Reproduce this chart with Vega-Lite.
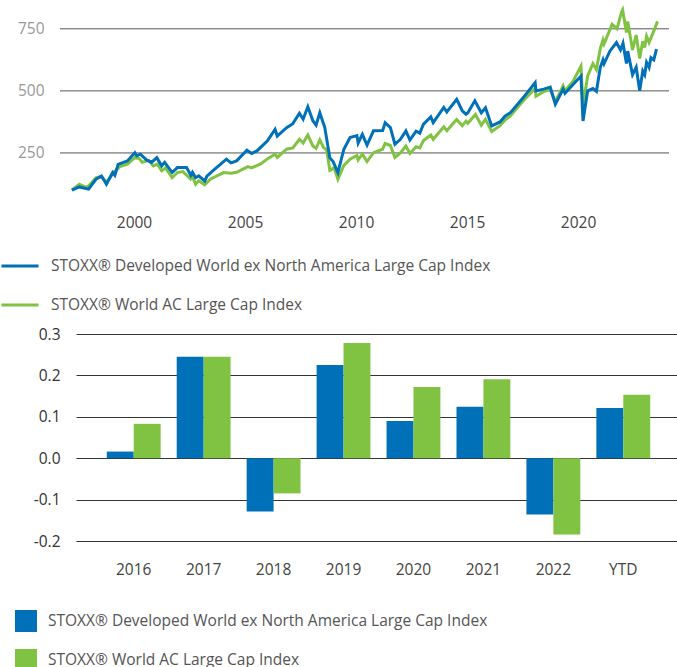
{
  "$schema": "https://vega.github.io/schema/vega-lite/v6.json",
  "padding": {"left": 0, "top": 3, "right": 0, "bottom": 0},
  "config": {"font": "Open Sans", "view": {"stroke": null}},
  "spacing": 13,
  "vconcat": [
    {
      "width": 593,
      "height": 211,
      "data": {"values": [
        {"s": "STOXX® World AC Large Cap Index", "d": "1997-03-15", "v": 100},
        {"s": "STOXX® World AC Large Cap Index", "d": "1997-07-15", "v": 124},
        {"s": "STOXX® World AC Large Cap Index", "d": "1997-10-27", "v": 112},
        {"s": "STOXX® World AC Large Cap Index", "d": "1997-12-15", "v": 117},
        {"s": "STOXX® World AC Large Cap Index", "d": "1998-04-15", "v": 150},
        {"s": "STOXX® World AC Large Cap Index", "d": "1998-07-15", "v": 155},
        {"s": "STOXX® World AC Large Cap Index", "d": "1998-10-05", "v": 132},
        {"s": "STOXX® World AC Large Cap Index", "d": "1999-02-15", "v": 175},
        {"s": "STOXX® World AC Large Cap Index", "d": "1999-05-15", "v": 195},
        {"s": "STOXX® World AC Large Cap Index", "d": "1999-09-15", "v": 205},
        {"s": "STOXX® World AC Large Cap Index", "d": "2000-01-15", "v": 231},
        {"s": "STOXX® World AC Large Cap Index", "d": "2000-03-25", "v": 228},
        {"s": "STOXX® World AC Large Cap Index", "d": "2000-05-15", "v": 212},
        {"s": "STOXX® World AC Large Cap Index", "d": "2000-09-01", "v": 220},
        {"s": "STOXX® World AC Large Cap Index", "d": "2000-11-15", "v": 198},
        {"s": "STOXX® World AC Large Cap Index", "d": "2001-01-20", "v": 205},
        {"s": "STOXX® World AC Large Cap Index", "d": "2001-04-01", "v": 178},
        {"s": "STOXX® World AC Large Cap Index", "d": "2001-06-01", "v": 190},
        {"s": "STOXX® World AC Large Cap Index", "d": "2001-09-20", "v": 150},
        {"s": "STOXX® World AC Large Cap Index", "d": "2001-12-15", "v": 171},
        {"s": "STOXX® World AC Large Cap Index", "d": "2002-03-15", "v": 175},
        {"s": "STOXX® World AC Large Cap Index", "d": "2002-07-20", "v": 145},
        {"s": "STOXX® World AC Large Cap Index", "d": "2002-08-20", "v": 155},
        {"s": "STOXX® World AC Large Cap Index", "d": "2002-10-10", "v": 124},
        {"s": "STOXX® World AC Large Cap Index", "d": "2002-12-01", "v": 138},
        {"s": "STOXX® World AC Large Cap Index", "d": "2003-03-10", "v": 122},
        {"s": "STOXX® World AC Large Cap Index", "d": "2003-06-15", "v": 145},
        {"s": "STOXX® World AC Large Cap Index", "d": "2004-01-15", "v": 171},
        {"s": "STOXX® World AC Large Cap Index", "d": "2004-05-15", "v": 168},
        {"s": "STOXX® World AC Large Cap Index", "d": "2004-08-15", "v": 172},
        {"s": "STOXX® World AC Large Cap Index", "d": "2005-02-15", "v": 195},
        {"s": "STOXX® World AC Large Cap Index", "d": "2005-04-20", "v": 190},
        {"s": "STOXX® World AC Large Cap Index", "d": "2005-09-15", "v": 206},
        {"s": "STOXX® World AC Large Cap Index", "d": "2006-01-15", "v": 228},
        {"s": "STOXX® World AC Large Cap Index", "d": "2006-05-10", "v": 245},
        {"s": "STOXX® World AC Large Cap Index", "d": "2006-06-15", "v": 232},
        {"s": "STOXX® World AC Large Cap Index", "d": "2006-11-15", "v": 265},
        {"s": "STOXX® World AC Large Cap Index", "d": "2007-02-27", "v": 270},
        {"s": "STOXX® World AC Large Cap Index", "d": "2007-06-15", "v": 305},
        {"s": "STOXX® World AC Large Cap Index", "d": "2007-08-15", "v": 290},
        {"s": "STOXX® World AC Large Cap Index", "d": "2007-10-31", "v": 322},
        {"s": "STOXX® World AC Large Cap Index", "d": "2008-01-22", "v": 278},
        {"s": "STOXX® World AC Large Cap Index", "d": "2008-03-15", "v": 268},
        {"s": "STOXX® World AC Large Cap Index", "d": "2008-05-15", "v": 303},
        {"s": "STOXX® World AC Large Cap Index", "d": "2008-07-15", "v": 272},
        {"s": "STOXX® World AC Large Cap Index", "d": "2008-09-05", "v": 262},
        {"s": "STOXX® World AC Large Cap Index", "d": "2008-10-27", "v": 180},
        {"s": "STOXX® World AC Large Cap Index", "d": "2009-01-06", "v": 190},
        {"s": "STOXX® World AC Large Cap Index", "d": "2009-03-09", "v": 144},
        {"s": "STOXX® World AC Large Cap Index", "d": "2009-06-15", "v": 200},
        {"s": "STOXX® World AC Large Cap Index", "d": "2009-09-25", "v": 225},
        {"s": "STOXX® World AC Large Cap Index", "d": "2010-01-15", "v": 240},
        {"s": "STOXX® World AC Large Cap Index", "d": "2010-02-05", "v": 222},
        {"s": "STOXX® World AC Large Cap Index", "d": "2010-04-15", "v": 245},
        {"s": "STOXX® World AC Large Cap Index", "d": "2010-07-01", "v": 215},
        {"s": "STOXX® World AC Large Cap Index", "d": "2010-10-15", "v": 251},
        {"s": "STOXX® World AC Large Cap Index", "d": "2011-03-15", "v": 265},
        {"s": "STOXX® World AC Large Cap Index", "d": "2011-04-25", "v": 288},
        {"s": "STOXX® World AC Large Cap Index", "d": "2011-07-20", "v": 280},
        {"s": "STOXX® World AC Large Cap Index", "d": "2011-10-03", "v": 232},
        {"s": "STOXX® World AC Large Cap Index", "d": "2012-01-01", "v": 250},
        {"s": "STOXX® World AC Large Cap Index", "d": "2012-04-01", "v": 278},
        {"s": "STOXX® World AC Large Cap Index", "d": "2012-06-05", "v": 248},
        {"s": "STOXX® World AC Large Cap Index", "d": "2012-09-15", "v": 275},
        {"s": "STOXX® World AC Large Cap Index", "d": "2012-11-15", "v": 270},
        {"s": "STOXX® World AC Large Cap Index", "d": "2013-01-15", "v": 300},
        {"s": "STOXX® World AC Large Cap Index", "d": "2013-05-15", "v": 322},
        {"s": "STOXX® World AC Large Cap Index", "d": "2013-06-24", "v": 305},
        {"s": "STOXX® World AC Large Cap Index", "d": "2013-12-15", "v": 355},
        {"s": "STOXX® World AC Large Cap Index", "d": "2014-02-03", "v": 340},
        {"s": "STOXX® World AC Large Cap Index", "d": "2014-07-15", "v": 385},
        {"s": "STOXX® World AC Large Cap Index", "d": "2014-10-15", "v": 360},
        {"s": "STOXX® World AC Large Cap Index", "d": "2014-12-15", "v": 378},
        {"s": "STOXX® World AC Large Cap Index", "d": "2015-01-15", "v": 370},
        {"s": "STOXX® World AC Large Cap Index", "d": "2015-05-20", "v": 405},
        {"s": "STOXX® World AC Large Cap Index", "d": "2015-08-24", "v": 362},
        {"s": "STOXX® World AC Large Cap Index", "d": "2015-11-01", "v": 385},
        {"s": "STOXX® World AC Large Cap Index", "d": "2016-02-11", "v": 336},
        {"s": "STOXX® World AC Large Cap Index", "d": "2016-06-27", "v": 360},
        {"s": "STOXX® World AC Large Cap Index", "d": "2016-09-15", "v": 382},
        {"s": "STOXX® World AC Large Cap Index", "d": "2016-12-15", "v": 399},
        {"s": "STOXX® World AC Large Cap Index", "d": "2017-07-15", "v": 460},
        {"s": "STOXX® World AC Large Cap Index", "d": "2018-01-26", "v": 510},
        {"s": "STOXX® World AC Large Cap Index", "d": "2018-02-08", "v": 478},
        {"s": "STOXX® World AC Large Cap Index", "d": "2018-06-15", "v": 497},
        {"s": "STOXX® World AC Large Cap Index", "d": "2018-10-01", "v": 505},
        {"s": "STOXX® World AC Large Cap Index", "d": "2018-12-24", "v": 455},
        {"s": "STOXX® World AC Large Cap Index", "d": "2019-05-01", "v": 520},
        {"s": "STOXX® World AC Large Cap Index", "d": "2019-06-01", "v": 500},
        {"s": "STOXX® World AC Large Cap Index", "d": "2019-10-15", "v": 540},
        {"s": "STOXX® World AC Large Cap Index", "d": "2020-02-19", "v": 600},
        {"s": "STOXX® World AC Large Cap Index", "d": "2020-03-23", "v": 440},
        {"s": "STOXX® World AC Large Cap Index", "d": "2020-06-08", "v": 560},
        {"s": "STOXX® World AC Large Cap Index", "d": "2020-09-02", "v": 610},
        {"s": "STOXX® World AC Large Cap Index", "d": "2020-10-30", "v": 585},
        {"s": "STOXX® World AC Large Cap Index", "d": "2021-01-01", "v": 670},
        {"s": "STOXX® World AC Large Cap Index", "d": "2021-02-15", "v": 705},
        {"s": "STOXX® World AC Large Cap Index", "d": "2021-03-05", "v": 690},
        {"s": "STOXX® World AC Large Cap Index", "d": "2021-07-15", "v": 768},
        {"s": "STOXX® World AC Large Cap Index", "d": "2021-10-04", "v": 750},
        {"s": "STOXX® World AC Large Cap Index", "d": "2021-12-15", "v": 816},
        {"s": "STOXX® World AC Large Cap Index", "d": "2022-01-04", "v": 826},
        {"s": "STOXX® World AC Large Cap Index", "d": "2022-03-08", "v": 735},
        {"s": "STOXX® World AC Large Cap Index", "d": "2022-03-29", "v": 780},
        {"s": "STOXX® World AC Large Cap Index", "d": "2022-06-16", "v": 665},
        {"s": "STOXX® World AC Large Cap Index", "d": "2022-08-15", "v": 725},
        {"s": "STOXX® World AC Large Cap Index", "d": "2022-10-12", "v": 630},
        {"s": "STOXX® World AC Large Cap Index", "d": "2022-12-01", "v": 700},
        {"s": "STOXX® World AC Large Cap Index", "d": "2023-01-02", "v": 675},
        {"s": "STOXX® World AC Large Cap Index", "d": "2023-02-02", "v": 720},
        {"s": "STOXX® World AC Large Cap Index", "d": "2023-03-15", "v": 695},
        {"s": "STOXX® World AC Large Cap Index", "d": "2023-06-15", "v": 750},
        {"s": "STOXX® World AC Large Cap Index", "d": "2023-08-01", "v": 780},
        {"s": "STOXX® Developed World ex North America Large Cap Index", "d": "1997-03-15", "v": 100},
        {"s": "STOXX® Developed World ex North America Large Cap Index", "d": "1997-07-15", "v": 113},
        {"s": "STOXX® Developed World ex North America Large Cap Index", "d": "1997-12-15", "v": 104},
        {"s": "STOXX® Developed World ex North America Large Cap Index", "d": "1998-04-15", "v": 144},
        {"s": "STOXX® Developed World ex North America Large Cap Index", "d": "1998-07-15", "v": 157},
        {"s": "STOXX® Developed World ex North America Large Cap Index", "d": "1998-10-05", "v": 124},
        {"s": "STOXX® Developed World ex North America Large Cap Index", "d": "1999-01-15", "v": 171},
        {"s": "STOXX® Developed World ex North America Large Cap Index", "d": "1999-02-20", "v": 160},
        {"s": "STOXX® Developed World ex North America Large Cap Index", "d": "1999-04-15", "v": 204},
        {"s": "STOXX® Developed World ex North America Large Cap Index", "d": "1999-09-15", "v": 218},
        {"s": "STOXX® Developed World ex North America Large Cap Index", "d": "2000-01-15", "v": 251},
        {"s": "STOXX® Developed World ex North America Large Cap Index", "d": "2000-02-15", "v": 238},
        {"s": "STOXX® Developed World ex North America Large Cap Index", "d": "2000-04-15", "v": 245},
        {"s": "STOXX® Developed World ex North America Large Cap Index", "d": "2000-07-25", "v": 222},
        {"s": "STOXX® Developed World ex North America Large Cap Index", "d": "2000-10-15", "v": 212},
        {"s": "STOXX® Developed World ex North America Large Cap Index", "d": "2001-01-10", "v": 231},
        {"s": "STOXX® Developed World ex North America Large Cap Index", "d": "2001-04-01", "v": 198},
        {"s": "STOXX® Developed World ex North America Large Cap Index", "d": "2001-05-20", "v": 212},
        {"s": "STOXX® Developed World ex North America Large Cap Index", "d": "2001-09-20", "v": 171},
        {"s": "STOXX® Developed World ex North America Large Cap Index", "d": "2001-12-15", "v": 191},
        {"s": "STOXX® Developed World ex North America Large Cap Index", "d": "2002-05-15", "v": 191},
        {"s": "STOXX® Developed World ex North America Large Cap Index", "d": "2002-07-24", "v": 160},
        {"s": "STOXX® Developed World ex North America Large Cap Index", "d": "2002-08-20", "v": 172},
        {"s": "STOXX® Developed World ex North America Large Cap Index", "d": "2002-10-10", "v": 150},
        {"s": "STOXX® Developed World ex North America Large Cap Index", "d": "2002-12-01", "v": 158},
        {"s": "STOXX® Developed World ex North America Large Cap Index", "d": "2003-03-10", "v": 137},
        {"s": "STOXX® Developed World ex North America Large Cap Index", "d": "2003-04-15", "v": 157},
        {"s": "STOXX® Developed World ex North America Large Cap Index", "d": "2003-07-15", "v": 177},
        {"s": "STOXX® Developed World ex North America Large Cap Index", "d": "2004-03-01", "v": 225},
        {"s": "STOXX® Developed World ex North America Large Cap Index", "d": "2004-05-15", "v": 210},
        {"s": "STOXX® Developed World ex North America Large Cap Index", "d": "2004-08-15", "v": 218},
        {"s": "STOXX® Developed World ex North America Large Cap Index", "d": "2005-02-01", "v": 261},
        {"s": "STOXX® Developed World ex North America Large Cap Index", "d": "2005-04-20", "v": 248},
        {"s": "STOXX® Developed World ex North America Large Cap Index", "d": "2005-07-15", "v": 258},
        {"s": "STOXX® Developed World ex North America Large Cap Index", "d": "2006-01-01", "v": 298},
        {"s": "STOXX® Developed World ex North America Large Cap Index", "d": "2006-05-10", "v": 345},
        {"s": "STOXX® Developed World ex North America Large Cap Index", "d": "2006-06-15", "v": 318},
        {"s": "STOXX® Developed World ex North America Large Cap Index", "d": "2006-11-15", "v": 352},
        {"s": "STOXX® Developed World ex North America Large Cap Index", "d": "2007-02-27", "v": 368},
        {"s": "STOXX® Developed World ex North America Large Cap Index", "d": "2007-03-15", "v": 375},
        {"s": "STOXX® Developed World ex North America Large Cap Index", "d": "2007-06-15", "v": 410},
        {"s": "STOXX® Developed World ex North America Large Cap Index", "d": "2007-08-15", "v": 386},
        {"s": "STOXX® Developed World ex North America Large Cap Index", "d": "2007-10-31", "v": 436},
        {"s": "STOXX® Developed World ex North America Large Cap Index", "d": "2008-01-22", "v": 380},
        {"s": "STOXX® Developed World ex North America Large Cap Index", "d": "2008-03-15", "v": 362},
        {"s": "STOXX® Developed World ex North America Large Cap Index", "d": "2008-05-15", "v": 412},
        {"s": "STOXX® Developed World ex North America Large Cap Index", "d": "2008-08-05", "v": 352},
        {"s": "STOXX® Developed World ex North America Large Cap Index", "d": "2008-10-27", "v": 230},
        {"s": "STOXX® Developed World ex North America Large Cap Index", "d": "2008-12-20", "v": 215},
        {"s": "STOXX® Developed World ex North America Large Cap Index", "d": "2009-03-09", "v": 171},
        {"s": "STOXX® Developed World ex North America Large Cap Index", "d": "2009-06-15", "v": 265},
        {"s": "STOXX® Developed World ex North America Large Cap Index", "d": "2009-09-25", "v": 312},
        {"s": "STOXX® Developed World ex North America Large Cap Index", "d": "2010-01-15", "v": 320},
        {"s": "STOXX® Developed World ex North America Large Cap Index", "d": "2010-02-05", "v": 290},
        {"s": "STOXX® Developed World ex North America Large Cap Index", "d": "2010-04-15", "v": 325},
        {"s": "STOXX® Developed World ex North America Large Cap Index", "d": "2010-07-01", "v": 282},
        {"s": "STOXX® Developed World ex North America Large Cap Index", "d": "2010-10-15", "v": 339},
        {"s": "STOXX® Developed World ex North America Large Cap Index", "d": "2011-03-15", "v": 340},
        {"s": "STOXX® Developed World ex North America Large Cap Index", "d": "2011-04-25", "v": 372},
        {"s": "STOXX® Developed World ex North America Large Cap Index", "d": "2011-07-20", "v": 352},
        {"s": "STOXX® Developed World ex North America Large Cap Index", "d": "2011-10-03", "v": 285},
        {"s": "STOXX® Developed World ex North America Large Cap Index", "d": "2012-01-01", "v": 305},
        {"s": "STOXX® Developed World ex North America Large Cap Index", "d": "2012-04-01", "v": 339},
        {"s": "STOXX® Developed World ex North America Large Cap Index", "d": "2012-06-05", "v": 302},
        {"s": "STOXX® Developed World ex North America Large Cap Index", "d": "2012-09-15", "v": 338},
        {"s": "STOXX® Developed World ex North America Large Cap Index", "d": "2012-11-15", "v": 330},
        {"s": "STOXX® Developed World ex North America Large Cap Index", "d": "2013-01-15", "v": 366},
        {"s": "STOXX® Developed World ex North America Large Cap Index", "d": "2013-05-15", "v": 395},
        {"s": "STOXX® Developed World ex North America Large Cap Index", "d": "2013-06-24", "v": 372},
        {"s": "STOXX® Developed World ex North America Large Cap Index", "d": "2013-12-15", "v": 433},
        {"s": "STOXX® Developed World ex North America Large Cap Index", "d": "2014-02-03", "v": 415},
        {"s": "STOXX® Developed World ex North America Large Cap Index", "d": "2014-07-15", "v": 466},
        {"s": "STOXX® Developed World ex North America Large Cap Index", "d": "2014-10-15", "v": 420},
        {"s": "STOXX® Developed World ex North America Large Cap Index", "d": "2014-12-15", "v": 406},
        {"s": "STOXX® Developed World ex North America Large Cap Index", "d": "2015-01-15", "v": 412},
        {"s": "STOXX® Developed World ex North America Large Cap Index", "d": "2015-05-10", "v": 460},
        {"s": "STOXX® Developed World ex North America Large Cap Index", "d": "2015-08-24", "v": 412},
        {"s": "STOXX® Developed World ex North America Large Cap Index", "d": "2015-11-01", "v": 432},
        {"s": "STOXX® Developed World ex North America Large Cap Index", "d": "2016-02-11", "v": 359},
        {"s": "STOXX® Developed World ex North America Large Cap Index", "d": "2016-06-27", "v": 375},
        {"s": "STOXX® Developed World ex North America Large Cap Index", "d": "2016-09-15", "v": 398},
        {"s": "STOXX® Developed World ex North America Large Cap Index", "d": "2016-12-15", "v": 412},
        {"s": "STOXX® Developed World ex North America Large Cap Index", "d": "2017-07-15", "v": 473},
        {"s": "STOXX® Developed World ex North America Large Cap Index", "d": "2018-01-26", "v": 533},
        {"s": "STOXX® Developed World ex North America Large Cap Index", "d": "2018-02-08", "v": 500},
        {"s": "STOXX® Developed World ex North America Large Cap Index", "d": "2018-06-15", "v": 507},
        {"s": "STOXX® Developed World ex North America Large Cap Index", "d": "2018-10-01", "v": 515},
        {"s": "STOXX® Developed World ex North America Large Cap Index", "d": "2018-12-24", "v": 446},
        {"s": "STOXX® Developed World ex North America Large Cap Index", "d": "2019-05-01", "v": 507},
        {"s": "STOXX® Developed World ex North America Large Cap Index", "d": "2019-06-01", "v": 490},
        {"s": "STOXX® Developed World ex North America Large Cap Index", "d": "2019-10-15", "v": 527},
        {"s": "STOXX® Developed World ex North America Large Cap Index", "d": "2020-02-19", "v": 560},
        {"s": "STOXX® Developed World ex North America Large Cap Index", "d": "2020-03-23", "v": 379},
        {"s": "STOXX® Developed World ex North America Large Cap Index", "d": "2020-06-08", "v": 500},
        {"s": "STOXX® Developed World ex North America Large Cap Index", "d": "2020-09-02", "v": 510},
        {"s": "STOXX® Developed World ex North America Large Cap Index", "d": "2020-10-30", "v": 498},
        {"s": "STOXX® Developed World ex North America Large Cap Index", "d": "2021-01-01", "v": 594},
        {"s": "STOXX® Developed World ex North America Large Cap Index", "d": "2021-02-15", "v": 625},
        {"s": "STOXX® Developed World ex North America Large Cap Index", "d": "2021-03-05", "v": 610},
        {"s": "STOXX® Developed World ex North America Large Cap Index", "d": "2021-06-10", "v": 661},
        {"s": "STOXX® Developed World ex North America Large Cap Index", "d": "2021-09-25", "v": 695},
        {"s": "STOXX® Developed World ex North America Large Cap Index", "d": "2021-11-30", "v": 665},
        {"s": "STOXX® Developed World ex North America Large Cap Index", "d": "2022-01-10", "v": 692},
        {"s": "STOXX® Developed World ex North America Large Cap Index", "d": "2022-03-08", "v": 610},
        {"s": "STOXX® Developed World ex North America Large Cap Index", "d": "2022-03-29", "v": 660},
        {"s": "STOXX® Developed World ex North America Large Cap Index", "d": "2022-06-16", "v": 565},
        {"s": "STOXX® Developed World ex North America Large Cap Index", "d": "2022-08-15", "v": 595},
        {"s": "STOXX® Developed World ex North America Large Cap Index", "d": "2022-10-12", "v": 500},
        {"s": "STOXX® Developed World ex North America Large Cap Index", "d": "2022-12-01", "v": 580},
        {"s": "STOXX® Developed World ex North America Large Cap Index", "d": "2023-01-02", "v": 565},
        {"s": "STOXX® Developed World ex North America Large Cap Index", "d": "2023-02-02", "v": 615},
        {"s": "STOXX® Developed World ex North America Large Cap Index", "d": "2023-03-15", "v": 595},
        {"s": "STOXX® Developed World ex North America Large Cap Index", "d": "2023-04-15", "v": 634},
        {"s": "STOXX® Developed World ex North America Large Cap Index", "d": "2023-06-01", "v": 625},
        {"s": "STOXX® Developed World ex North America Large Cap Index", "d": "2023-07-15", "v": 668}
      ]},
      "layer": [
        {
          "data": {"values": [{}]},
          "mark": {"type": "rule", "color": "#555555", "strokeWidth": 1},
          "encoding": {
            "x": {"datum": {"year": 1996, "month": 9, "date": 1}, "type": "temporal"},
            "x2": {"datum": {"year": 2024, "month": 2, "date": 6}},
            "y": {"datum": 250, "type": "quantitative"}
          }
        },
        {
          "data": {"values": [{}]},
          "mark": {"type": "rule", "color": "#555555", "strokeWidth": 1},
          "encoding": {
            "x": {"datum": {"year": 1996, "month": 9, "date": 1}, "type": "temporal"},
            "x2": {"datum": {"year": 2024, "month": 2, "date": 6}},
            "y": {"datum": 500, "type": "quantitative"}
          }
        },
        {
          "data": {"values": [{}]},
          "mark": {"type": "rule", "color": "#555555", "strokeWidth": 1},
          "encoding": {
            "x": {"datum": {"year": 1996, "month": 9, "date": 1}, "type": "temporal"},
            "x2": {"datum": {"year": 2024, "month": 2, "date": 6}},
            "y": {"datum": 750, "type": "quantitative"}
          }
        },
        {
          "transform": [{"filter": "datum.s === 'STOXX® World AC Large Cap Index'"}],
          "mark": {"type": "line", "strokeWidth": 3, "clip": false},
          "encoding": {
            "x": {"field": "d", "type": "temporal"},
            "y": {"field": "v", "type": "quantitative"},
            "color": {"field": "s", "type": "nominal"}
          }
        },
        {
          "transform": [{"filter": "datum.s !== 'STOXX® World AC Large Cap Index'"}],
          "mark": {"type": "line", "strokeWidth": 3, "clip": false},
          "encoding": {
            "x": {"field": "d", "type": "temporal"},
            "y": {"field": "v", "type": "quantitative"},
            "color": {"field": "s", "type": "nominal"}
          }
        }
      ],
      "encoding": {
        "x": {
          "type": "temporal",
          "scale": {"domain": [{"year": 1997, "month": 5, "date": 22}, {"year": 2024, "month": 2, "date": 6}]},
          "axis": {
            "title": null, "domain": false, "ticks": false, "grid": false,
            "values": [{"year": 2000}, {"year": 2005}, {"year": 2010}, {"year": 2015}, {"year": 2020}],
            "format": "%Y", "labelFontSize": 15.5, "labelColor": "#444444", "labelPadding": 0
          }
        },
        "y": {
          "type": "quantitative",
          "scale": {"domain": [0, 850], "nice": false},
          "axis": {
            "title": null, "domain": false, "ticks": false, "grid": false,
            "values": [250, 500, 750], "labelFontSize": 15.5, "labelColor": "#999999", "labelPadding": 32
          }
        },
        "color": {
          "type": "nominal",
          "scale": {
            "domain": ["STOXX® Developed World ex North America Large Cap Index", "STOXX® World AC Large Cap Index"],
            "range": ["#0070B8", "#80C342"]
          },
          "legend": {
            "title": null, "orient": "none", "legendX": -76, "legendY": 242,
            "direction": "vertical", "symbolType": "stroke", "symbolSize": 1369,
            "symbolStrokeWidth": 3, "labelFontSize": 15.5, "labelColor": "#555555",
            "labelOffset": 11, "labelLimit": 0, "rowPadding": 10, "padding": 0
          }
        }
      }
    },
    {
      "width": 605,
      "height": 207,
      "data": {"values": [
        {"y": "2016", "s": "STOXX® Developed World ex North America Large Cap Index", "v": 0.016},
        {"y": "2016", "s": "STOXX® World AC Large Cap Index", "v": 0.083},
        {"y": "2017", "s": "STOXX® Developed World ex North America Large Cap Index", "v": 0.245},
        {"y": "2017", "s": "STOXX® World AC Large Cap Index", "v": 0.245},
        {"y": "2018", "s": "STOXX® Developed World ex North America Large Cap Index", "v": -0.129},
        {"y": "2018", "s": "STOXX® World AC Large Cap Index", "v": -0.085},
        {"y": "2019", "s": "STOXX® Developed World ex North America Large Cap Index", "v": 0.225},
        {"y": "2019", "s": "STOXX® World AC Large Cap Index", "v": 0.278},
        {"y": "2020", "s": "STOXX® Developed World ex North America Large Cap Index", "v": 0.090},
        {"y": "2020", "s": "STOXX® World AC Large Cap Index", "v": 0.172},
        {"y": "2021", "s": "STOXX® Developed World ex North America Large Cap Index", "v": 0.124},
        {"y": "2021", "s": "STOXX® World AC Large Cap Index", "v": 0.191},
        {"y": "2022", "s": "STOXX® Developed World ex North America Large Cap Index", "v": -0.136},
        {"y": "2022", "s": "STOXX® World AC Large Cap Index", "v": -0.184},
        {"y": "YTD", "s": "STOXX® Developed World ex North America Large Cap Index", "v": 0.121},
        {"y": "YTD", "s": "STOXX® World AC Large Cap Index", "v": 0.153}
      ]},
      "mark": {"type": "bar"},
      "encoding": {
        "x": {
          "field": "y", "type": "nominal", "sort": null,
          "scale": {"paddingInner": 0.23, "paddingOuter": 0.44},
          "axis": {
            "title": null, "domain": false, "ticks": false, "labelAngle": 0,
            "labelFontSize": 15.5, "labelColor": "#444444", "labelPadding": 21
          }
        },
        "xOffset": {"field": "s", "type": "nominal",
          "scale": {"domain": ["STOXX® Developed World ex North America Large Cap Index", "STOXX® World AC Large Cap Index"]}},
        "y": {
          "field": "v", "type": "quantitative",
          "scale": {"domain": [-0.2, 0.3], "nice": false},
          "axis": {
            "title": null, "domain": false, "ticks": false, "grid": true,
            "gridColor": "#333333", "gridOpacity": 1,
            "values": [-0.2, -0.1, 0, 0.1, 0.2, 0.3],
            "labelExpr": "replace(format(datum.value, '.1f'), '\u2212', '-')",
            "labelFontSize": 15.5, "labelColor": "#333333", "labelPadding": 16
          }
        },
        "color": {
          "field": "s", "type": "nominal",
          "scale": {
            "domain": ["STOXX® Developed World ex North America Large Cap Index", "STOXX® World AC Large Cap Index"],
            "range": ["#0070B8", "#80C342"]
          },
          "legend": {
            "title": null, "orient": "none", "legendX": -76, "legendY": 261,
            "direction": "vertical", "symbolType": "square", "symbolSize": 484,
            "symbolStrokeWidth": 0, "symbolOpacity": 1, "labelFontSize": 15.5, "labelColor": "#555555",
            "labelOffset": 11, "labelLimit": 0, "rowPadding": 17, "padding": 15,
            "fillColor": "#ffffff"
          }
        }
      }
    }
  ],
  "resolve": {"scale": {"color": "independent"}, "legend": {"color": "independent"}}
}
